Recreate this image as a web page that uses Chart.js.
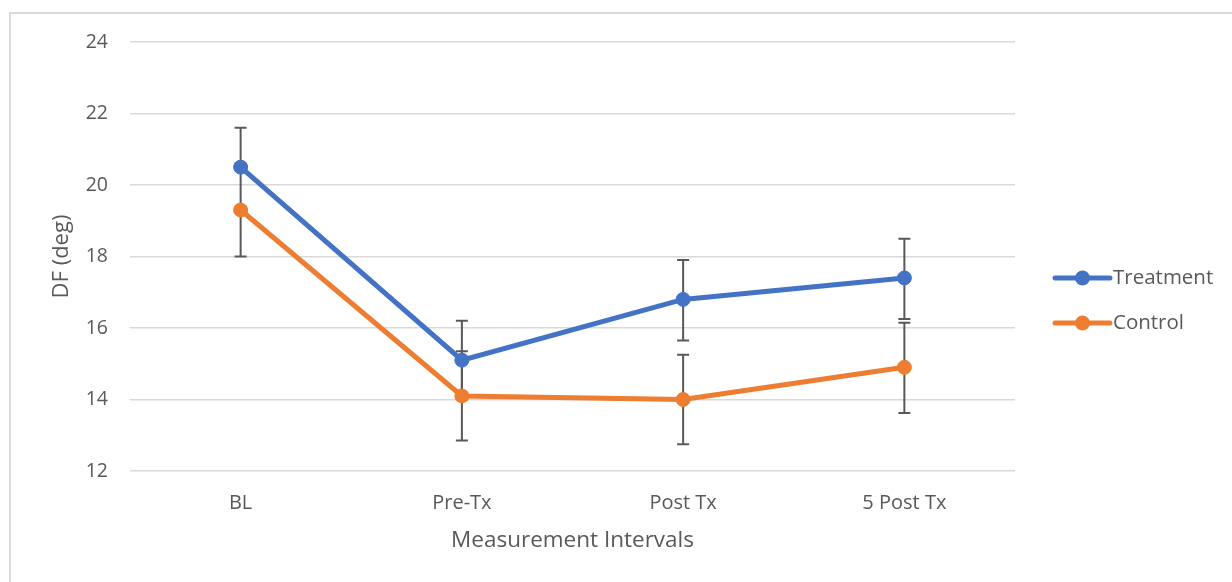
<!DOCTYPE html>
<html>
<head>
<meta charset="utf-8">
<script src="https://cdn.jsdelivr.net/npm/chart.js@4.4.1/dist/chart.umd.min.js"></script>
<style>
  html, body { margin: 0; padding: 0; background: #ffffff; width: 1232px; height: 582px; overflow: hidden; }
  #frame { position: absolute; left: 9px; top: 12px; width: 1230px; height: 580px;
           border-top: 2px solid #d9d9d9; border-left: 2px solid #d9d9d9; box-sizing: border-box; }
  #wrap { position: absolute; left: 12px; top: 15px; width: 1220px; height: 567px; }
</style>
</head>
<body>
<div id="frame"></div>
<div id="wrap"><canvas id="c" width="1220" height="567"></canvas></div>
<script>
const categories = ['BL', 'Pre-Tx', 'Post Tx', '5 Post Tx'];
const treatment = [20.5, 15.1, 16.8, 17.4];
const control = [19.3, 14.1, 14.0, 14.9];
const treatmentErrPlus = [1.1, 1.1, 1.1, 1.1];
const treatmentErrMinus = [null, 1.1, 1.15, 1.15];
const controlErrPlus = [1.3, 1.25, 1.25, 1.25];
const controlErrMinus = [1.3, 1.25, 1.25, 1.28];
const yTicks = [12, 14, 16, 18, 20, 22, 24];

const FONT = "'Open Sans', 'Noto Sans', sans-serif";
const TXT = '#595959';
const BLUE = '#4472C4';
const ORANGE = '#ED7D31';

const errors = [
  { plus: treatmentErrPlus, minus: treatmentErrMinus },
  { plus: controlErrPlus, minus: controlErrMinus }
];

const errorBarPlugin = {
  id: 'errorBars',
  beforeDatasetsDraw(chart) {
    const ctx = chart.ctx;
    const y = chart.scales.y;
    ctx.save();
    ctx.strokeStyle = '#595959';
    ctx.lineWidth = 2;
    chart.data.datasets.forEach((ds, di) => {
      const meta = chart.getDatasetMeta(di);
      meta.data.forEach((pt, i) => {
        const v = ds.data[i];
        const e = errors[di];
        const cap = 6;
        const drawSeg = (delta) => {
          if (delta === null || delta === undefined) return;
          const yv = y.getPixelForValue(v + delta);
          const y0 = y.getPixelForValue(v);
          ctx.beginPath();
          ctx.moveTo(pt.x, y0);
          ctx.lineTo(pt.x, yv);
          ctx.moveTo(pt.x - cap, yv);
          ctx.lineTo(pt.x + cap, yv);
          ctx.stroke();
        };
        drawSeg(e.plus[i]);
        if (e.minus[i] !== null) drawSeg(-e.minus[i]);
      });
    });
    ctx.restore();
  }
};

const legendPlugin = {
  id: 'sideLegend',
  afterDraw(chart) {
    const ctx = chart.ctx;
    const x0 = 1043, x1 = 1098;
    const ys = [263, 308];
    ctx.save();
    chart.data.datasets.forEach((ds, i) => {
      const yy = ys[i];
      ctx.strokeStyle = ds.borderColor;
      ctx.lineWidth = 5;
      ctx.lineCap = 'round';
      ctx.beginPath();
      ctx.moveTo(x0, yy);
      ctx.lineTo(x1, yy);
      ctx.stroke();
      ctx.fillStyle = ds.borderColor;
      ctx.beginPath();
      ctx.arc((x0 + x1) / 2, yy, 7.5, 0, Math.PI * 2);
      ctx.fill();
      ctx.fillStyle = TXT;
      ctx.font = '20.5px ' + FONT;
      ctx.textBaseline = 'middle';
      ctx.textAlign = 'left';
      ctx.fillText(ds.label, x1 + 3, yy);
    });
    ctx.restore();
  }
};

new Chart(document.getElementById('c'), {
  type: 'line',
  data: {
    labels: categories,
    datasets: [
      { label: 'Treatment', data: treatment, borderColor: BLUE, backgroundColor: BLUE,
        borderWidth: 5, pointRadius: 7, pointBorderWidth: 1, pointBackgroundColor: BLUE,
        pointBorderColor: BLUE, tension: 0, fill: false },
      { label: 'Control', data: control, borderColor: ORANGE, backgroundColor: ORANGE,
        borderWidth: 5, pointRadius: 7, pointBorderWidth: 1, pointBackgroundColor: ORANGE,
        pointBorderColor: ORANGE, tension: 0, fill: false }
    ]
  },
  options: {
    responsive: false,
    animation: false,
    layout: { padding: { left: 0, right: 217, top: 27, bottom: 0 } },
    plugins: { legend: { display: false }, tooltip: { enabled: false } },
    scales: {
      x: {
        type: 'category',
        offset: true,
        grid: { display: false, drawTicks: false },
        border: { display: false },
        ticks: { color: TXT, font: { family: FONT, size: 20 }, padding: 20 },
        title: { display: true, text: 'Measurement Intervals', color: TXT,
                 font: { family: FONT, size: 22.5 }, padding: { top: 0, bottom: 27.5 } },
        afterFit(s) { s.height = 111; }
      },
      y: {
        min: 12, max: 24,
        afterBuildTicks(s) { s.ticks = yTicks.map(v => ({ value: v })); },
        grid: { color: '#d9d9d9', lineWidth: 1.5, drawTicks: false },
        border: { display: false },
        ticks: { color: TXT, font: { family: FONT, size: 19.5 }, padding: 22 },
        title: { display: true, text: 'DF (deg)', color: TXT,
                 font: { family: FONT, size: 22 }, padding: { top: 37, bottom: 0 } },
        afterFit(s) { s.width = 118; s.paddingTop = 0; s.paddingBottom = 0; }
      }
    }
  },
  plugins: [errorBarPlugin, legendPlugin]
});
</script>
</body>
</html>
